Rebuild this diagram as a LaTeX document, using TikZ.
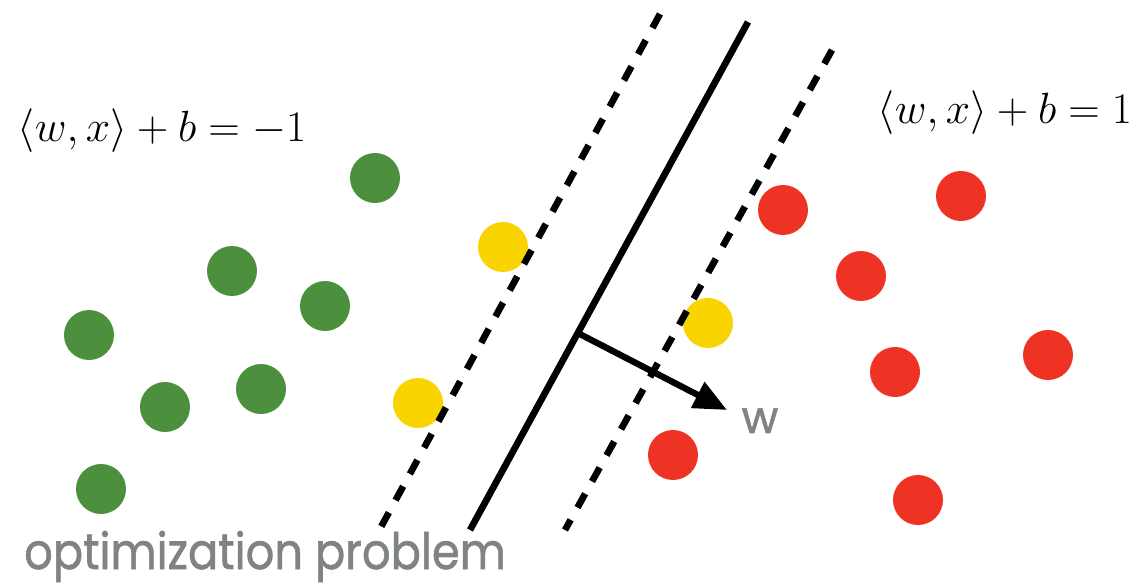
\documentclass[tikz,border=0pt]{standalone}
\usepackage{amsmath,amssymb}
\usepackage{fontspec}
\newfontfamily\geofont[FakeBold=1.2]{Poppins}
\usetikzlibrary{arrows.meta}
\usepackage{xcolor}
\definecolor{ptgreen}{RGB}{76,143,60}
\definecolor{ptyellow}{RGB}{249,212,0}
\definecolor{ptred}{RGB}{238,50,36}
\definecolor{txtgray}{RGB}{128,131,131}

\begin{document}
\begin{tikzpicture}[x=0.02cm,y=-0.02cm,>={Triangle[length=0.66cm,width=0.56cm]},line cap=butt,
  pt/.style={circle,inner sep=0pt,minimum size=1cm},
  margin/.style={line width=3.8pt,dash pattern=on 9pt off 8pt},
  eqlabel/.style={font=\fontsize{27}{31}\selectfont}]
\useasboundingbox (0,0) rectangle (1147,584);
% data points
\node[pt,fill=ptgreen] (g1) at (375,178) {};
\node[pt,fill=ptgreen] (g2) at (232,271) {};
\node[pt,fill=ptgreen] (g3) at (325,306) {};
\node[pt,fill=ptgreen] (g4) at (89,335) {};
\node[pt,fill=ptgreen] (g5) at (165,407) {};
\node[pt,fill=ptgreen] (g6) at (261,389) {};
\node[pt,fill=ptgreen] (g7) at (101,489) {};
\node[pt,fill=ptyellow] (y1) at (503,247) {};
\node[pt,fill=ptyellow] (y2) at (418,403) {};
\node[pt,fill=ptyellow] (y3) at (708,323) {};
\node[pt,fill=ptred] (r1) at (783,210) {};
\node[pt,fill=ptred] (r2) at (961,196) {};
\node[pt,fill=ptred] (r3) at (861,276) {};
\node[pt,fill=ptred] (r4) at (895,372) {};
\node[pt,fill=ptred] (r5) at (1048,355) {};
\node[pt,fill=ptred] (r6) at (673,455) {};
\node[pt,fill=ptred] (r7) at (918,500) {};
% separating line and margins
\coordinate (sTop) at (748,22);
\coordinate (sBot) at (470,530);
\coordinate (mlTop) at (660,14);
\coordinate (mlBot) at (381,527);
\coordinate (mrTop) at (832,50);
\coordinate (mrBot) at (565,530);
\draw[margin] (mlTop) -- (mlBot);
\draw[margin] (mrTop) -- (mrBot);
\draw[line width=3.8pt] (sTop) -- (sBot);
% normal vector
\coordinate (foot) at (577.8,333);
\coordinate (tip) at (727,410);
\draw[->,line width=3.6pt] (foot) -- (tip);
\node[txtgray,anchor=base,font=\geofont\fontsize{25.5}{30}\selectfont] (wlab) at (760,433) {w};
% labels
\node[eqlabel] (eqneg) at (162,131) {$\langle w,x\rangle+b=-1$};
\node[eqlabel] (eqpos) at (1005,113) {$\langle w,x\rangle+b=1$};
\node[anchor=base west,txtgray,yscale=1.12,font=\geofont\fontsize{25.5}{30}\selectfont] (title) at (18,569) {optimization problem};
\end{tikzpicture}
\end{document}
